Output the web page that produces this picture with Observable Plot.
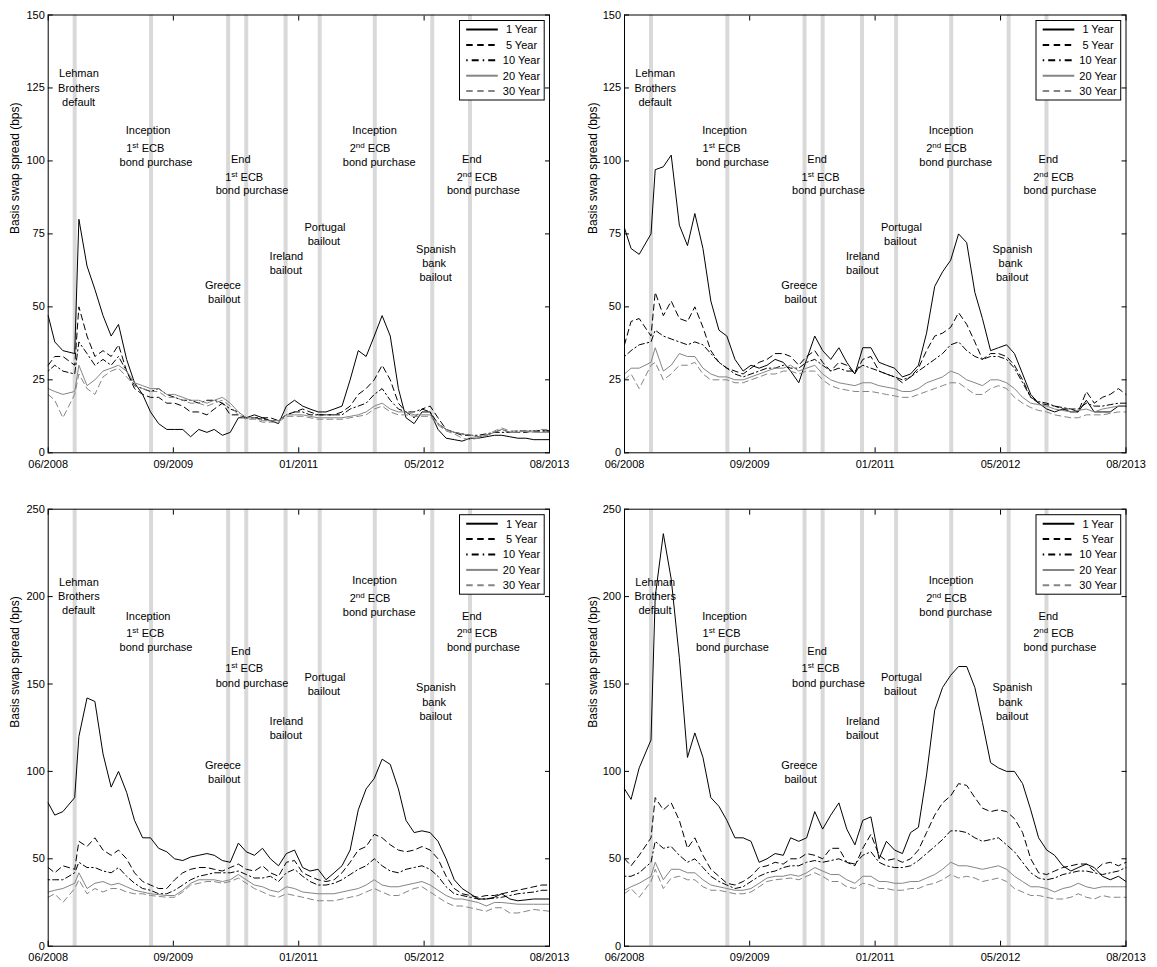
<!DOCTYPE html>
<html>
<head>
<meta charset="utf-8">
<script src="https://cdn.jsdelivr.net/npm/d3@7"></script>
<script src="https://cdn.jsdelivr.net/npm/@observablehq/plot@0.6"></script>
<style>
  html, body { margin: 0; padding: 0; background: #fff; }
  #wrap { position: relative; width: 1157px; height: 967px; background: #fff; overflow: hidden; }
</style>
</head>
<body>
<div id="wrap"></div>
<script>
// ---------- data ----------
const dates = [
  "2008-06-06","2008-07-01","2008-08-01","2008-09-15","2008-10-01","2008-11-01","2008-12-01",
  "2009-01-01","2009-02-01","2009-03-01","2009-04-01","2009-05-01","2009-06-01","2009-07-01","2009-08-01","2009-09-01","2009-10-01","2009-11-01","2009-12-01",
  "2010-01-01","2010-02-01","2010-03-01","2010-04-01","2010-05-01","2010-06-01","2010-07-01","2010-08-01","2010-09-01","2010-10-01","2010-11-01","2010-12-01",
  "2011-01-01","2011-02-01","2011-03-01","2011-04-01","2011-05-01","2011-06-01","2011-07-01","2011-08-01","2011-09-01","2011-10-01","2011-11-01","2011-12-01",
  "2012-01-01","2012-02-01","2012-03-01","2012-04-01","2012-05-01","2012-06-01","2012-07-01","2012-08-01","2012-09-01","2012-10-01","2012-11-01","2012-12-01",
  "2013-01-01","2013-02-01","2013-03-01","2013-04-01","2013-05-01","2013-06-01","2013-07-01","2013-08-01","2013-08-30"
];

const maturities = ["1 Year", "5 Year", "10 Year", "20 Year", "30 Year"];

// upper-left panel
const ul1y  = [47, 38,35,34,80,64,56, 47,40,44,32,24,20,14,10,8,8,8,5.5, 8,7,8,6,7,12,12,13,12,11,10,16, 18,16,15,14,14,15,16,25,35,33,40,47, 40,22,12,10,14,14,8,5,4.5,4,5,5, 5.5,6,6,5.5,5,5,4.5,4.5, 4.5];
const ul5y  = [30, 33,33,30,50,40,33, 35,33,37,28,22,20,19,19,17,17,16,14, 14,13,15,17,13,13,12,12,12,12,11,13, 14,15,14,13,13,13,14,16,20,22,25,30, 25,17,14,12,15,16,12,8,7,6,6,5.5, 6,7,8,7,7,7,7.5,7.5, 7.5];
const ul10y = [28, 30,28,27,38,34,30, 32,30,33,28,23,22,21,22,20,19,18,18, 17,18,18,17,15,14,12,12,11.5,11,11,13, 14,14,13,13,13,13,13,15,16,17,20,22, 18,15,14,14,15,14,10,8,7,6.5,6,6, 6.5,7,7,7,7.5,7.5,7.5,7.5, 7.5];
const ul20y = [22, 21,20,21,30,23,25, 28,29,30,28,24,23,22,22,20,20,19,18, 18,17,18,19,17,14,12,12,11,11,11,13, 13,13,12.5,12,12,12,12,12.5,13,14,16,17, 15,14,14,13,13,13,10,8,7,6.5,6,5.5, 6,7,8,7,7,7.5,7,7, 7];
const ul30y = [20, 18,12,20,27,22,20, 26,28,29,26,23,22,21,21,19,19,18,17, 17,16,17,18,16,13,11.5,11.5,10.5,10.5,10.5,12.5, 12.5,12.5,12,11.5,11.5,11.5,11.5,12,12.5,13,15,16, 14,13,13,12.5,12.5,12.5,9.5,7.5,6.5,5,4.5,5, 6,7.5,8.5,7.5,7.5,7.5,7.5,8, 8];

// upper-right panel
const ur1y  = [77, 70,68,75,97,98,102, 78,71,82,70,52,42,40,32,28,30,29,30, 32,31,28,24,32,40,35,32,36,31,27,36, 36,31,30,29,26,27,30,41,57,62,66,75, 72,55,46,35,36,37,34,27,20,17,15,14, 15,14,14,18,14,14,14,16, 16];
const ur5y  = [37, 45,46,40,55,47,52, 46,45,50,43,35,31,29,28,27,29,31,32, 34,34,33,30,33,35,31,28,31,30,27,32, 33,28,27,26,24,26,29,35,40,41,43,48, 44,38,32,34,34,33,30,25,19,17,16.5,16, 15,15,14,21,17,19,20,22, 20];
const ur10y = [33, 35,37,38,42,40,39, 38,37,38,37,34,31,29,27,26,27,28,29, 29,30,29,29,31,32,30,28,29,28,28,30, 29,28,27,26,25,26,28,30,32,34,37,38, 35,33,32,33,33,32,29,24,19,17.5,17,16, 15.5,15,15,17,16,16,16.5,17, 17];
const ur20y = [27, 29,29,31,36,28,30, 34,33,33,29,27,26,26,25,25,26,27,28, 29,29,30,28,29,30,27,25,24,23.5,23,24, 24,23,22.5,22,21,21,22,24,25,26,28,27, 25,24,23,25,25,24,22,19,17,16.5,16,15, 14.5,14,14.5,15,14,15,15.5,16, 16];
const ur30y = [25, 27,22,30,31,25,27, 30,30,31,27,25,25,25,24,24,25,26,27, 27,28,28,27,28,28,25,23,22,21.5,21,21, 21,20.5,20,19.5,19,19,20,21,22,23,24,24, 22,20,20,22,23,22,19,17,15.5,14.5,14,13, 12.5,12,12,13,13,13,13.5,14, 14];

// lower-left panel
const ll1y  = [82, 75,77,85,120,142,140, 110,91,100,88,72,62,62,56,54,50,49,51, 52,53,52,49,48,59,54,52,56,50,46,53, 55,45,43,44,38,42,46,55,78,90,96,107, 104,90,72,65,66,65,60,50,38,33,30,27, 27,28,30,27,26,26.5,27,27, 27];
const ll5y  = [45, 42,46,44,60,57,62, 55,52,55,50,42,37,35,33,33,38,42,44, 45,45,44,43,45,47,44,43,46,42,40,48, 49,42,40,38,37,38,42,48,55,57,64,62, 58,55,54,55,57,55,50,40,33,30,29,28, 29,29,30,31,32,33,34,35, 35];
const ll10y = [38, 38,38,42,48,45,45, 43,42,45,40,36,33,32,30,30,32,35,38, 40,41,42,42,42,43,41,39,39,40,37,42, 44,40,37,35,35,36,38,41,44,46,50,46, 43,42,44,45,46,44,40,34,30,29,28,27, 27,27.5,28,29,30,30.5,31,32, 32];
const ll20y = [31, 32,33,36,42,33,36, 37,35,36,34,32,31,30,29.5,29,29,32,36, 38,38,38,37,38,41,38,35,34,32,31,34, 33,31,30.5,30,30,30,31,32,33,35,38,35, 34,34,35,36,37,35,32,29,27,27,26,25, 23,25,25,24.5,24,24,24,24, 24];
const ll30y = [28, 30,25,33,38,30,33, 31,33,33,31,30,30,29,28.5,28,28,31,35, 36,37,37,36,37,39,36,33,31,29,28,30, 29,28,27,26,26,26,27,28,29,31,33,31, 29,29,31,33,34,31,28,25,23,23,22,21, 20,22,22,19,19,20,21,20.5, 20];

// lower-right panel
const lr1y  = [90, 84,102,118,200,236,210, 165,108,122,108,85,80,72,62,62,60,48,50, 53,52,62,60,62,77,67,75,82,67,58,72, 74,50,60,55,53,65,68,98,135,148,155,160, 160,148,128,105,102,100,100,93,78,62,55,52, 46,43,45,47,45,40,38,40, 37];
const lr5y  = [50, 46,52,62,85,78,82, 72,56,62,52,44,40,36,35,37,40,45,46, 48,47,50,50,53,52,50,56,56,48,46,56, 64,52,49,50,48,50,55,65,75,82,86,93, 92,85,79,77,78,77,73,65,50,42,41,43, 45,46,47,47,43,47,48,46, 48];
const lr10y = [40, 40,42,48,60,56,57, 52,48,50,45,40,37,35,33,34,37,40,42, 43,45,46,46,48,49,48,49,50,48,47,52, 54,48,46,45,45,46,49,53,57,61,66,66, 65,62,60,61,62,58,54,48,42,39,38,39, 41,42,43,43,42,41,42,43, 45];
const lr20y = [32, 34,36,40,48,38,44, 44,42,42,38,35,34,33,32,32,33,36,39, 40,40,41,40,42,45,43,41,41,38,36,40, 40,37,37,36,36,37,37,39,41,44,48,46, 46,45,44,45,46,44,40,37,34,34,33,31, 33,34,36,34,33,34,34,34, 34];
const lr30y = [30, 33,28,37,44,33,39, 40,38,38,34,32,32,31,30,30,31,34,37, 38,38.5,39,38,40,42,40,37,37,34,33,36, 35,33,33,32,32,33,33,35,36,38,41,39, 40,39,37,38,39,37,33,31,29,29,28,27, 27,28,30,28,27,29,28,28, 28];

// crisis and policy events (vertical bars)
const eventDates = ["2008-09-15","2009-07-03","2010-04-23","2010-07-01","2010-11-28","2011-04-07","2011-11-03","2012-06-09","2012-10-31"];

// event labels: one row per text line, anchored in data units
const upperNotes = [
  ["Lehman","2008-10-01",129.9], ["Brothers","2008-10-01",124.9], ["default","2008-09-30",120.1],
  ["Inception","2009-06-22",110.4], ["1^st ECB","2009-06-11",104.4], ["bond purchase","2009-07-22",99.6],
  ["End","2010-06-10",100.5], ["1^st ECB","2010-06-23",94.4], ["bond purchase","2010-07-23",89.8],
  ["Greece","2010-04-03",57.3], ["bailout","2010-04-08",52.5],
  ["Ireland","2010-12-01",67.3], ["bailout","2010-11-29",62.5],
  ["Portugal","2011-04-27",77.2], ["bailout","2011-04-23",72.4],
  ["Inception","2011-11-02",110.4], ["2^nd ECB","2011-10-16",104.4], ["bond purchase","2011-11-20",99.6],
  ["Spanish","2012-06-23",69.7], ["bank","2012-06-16",64.9], ["bailout","2012-06-22",60.2],
  ["End","2012-11-07",100.5], ["2^nd ECB","2012-11-27",94.4], ["bond purchase","2012-12-21",89.8]
];
const lowerNotes = [
  ["Lehman","2008-10-01",208.1], ["Brothers","2008-10-01",199.9], ["default","2008-09-30",191.9],
  ["Inception","2009-06-22",188.5], ["1^st ECB","2009-06-11",179], ["bond purchase","2009-07-22",171],
  ["End","2010-06-10",168.7], ["1^st ECB","2010-06-23",159], ["bond purchase","2010-07-23",150.4],
  ["Greece","2010-04-03",103.4], ["bailout","2010-04-08",95.4],
  ["Ireland","2010-12-01",128.7], ["bailout","2010-11-29",120.5],
  ["Portugal","2011-04-27",153.7], ["bailout","2011-04-23",145.8],
  ["Inception","2011-11-02",209], ["2^nd ECB","2011-10-16",199], ["bond purchase","2011-11-20",190.8],
  ["Spanish","2012-06-23",147.9], ["bank","2012-06-16",139.6], ["bailout","2012-06-22",131.6],
  ["End","2012-11-07",188.5], ["2^nd ECB","2012-11-27",179], ["bond purchase","2012-12-21",171]
];

const xDomain = ["2008-06-06", "2013-08-30"];
const xTickDates = ["2008-06-06", "2009-09-26", "2011-01-17", "2012-05-09", "2013-08-30"];
const xTickLabels = ["06/2008", "09/2009", "01/2011", "05/2012", "08/2013"];
const upperYTicks = [0, 25, 50, 75, 100, 125, 150];
const lowerYTicks = [0, 50, 100, 150, 200, 250];
const yLabel = "Basis swap spread (bps)";

// ---------- drawing ----------
const NS = "http://www.w3.org/2000/svg";
const FONT = '"Liberation Sans", Arial, Helvetica, sans-serif';
const GRAY = "#858585";
const lineStyles = [
  {stroke: "#000", dash: null,          legendDash: null},
  {stroke: "#000", dash: "6,4",         legendDash: "6.5,4.5"},
  {stroke: "#000", dash: "1.5,3,6,3",   legendDash: "1.5,4,7,4"},
  {stroke: GRAY,   dash: null,          legendDash: null},
  {stroke: GRAY,   dash: "6,4",         legendDash: "6.5,4.5"}
];

const toDate = s => new Date(s);
const xTicks = xTickDates.map(toDate);
const tickLabelOf = d => {
  const i = xTicks.findIndex(t => +t === +d);
  return i < 0 ? "" : xTickLabels[i];
};

// "1^st ECB" -> 1 with a raised "st", then " ECB"
function superscripts(svg) {
  svg.querySelectorAll("text").forEach(t => {
    const m = /^(\d+)\^(\w+)(.*)$/.exec(t.textContent);
    if (!m) return;
    while (t.firstChild) t.removeChild(t.firstChild);
    t.appendChild(document.createTextNode(m[1]));
    const sup = document.createElementNS(NS, "tspan");
    sup.setAttribute("dy", "-4");
    sup.setAttribute("font-size", "8");
    sup.textContent = m[2];
    const rest = document.createElementNS(NS, "tspan");
    rest.setAttribute("dy", "4");
    rest.textContent = m[3];
    t.appendChild(sup);
    t.appendChild(rest);
  });
}

function addLegend(svg, right, top) {
  const g = d3.select(svg).append("g")
    .attr("transform", `translate(${right - 89.5},${top + 6})`)
    .attr("font-family", FONT).attr("font-size", 11);
  g.append("rect").attr("x", 0).attr("y", 0).attr("width", 84.7).attr("height", 79.5)
    .attr("fill", "white").attr("stroke", "black").attr("stroke-width", 1);
  maturities.forEach((name, i) => {
    const y = 9 + i * 15.4;
    const s = lineStyles[i];
    g.append("line").attr("x1", 6.7).attr("x2", 38.3).attr("y1", y).attr("y2", y)
      .attr("stroke", s.stroke).attr("stroke-width", 2)
      .attr("stroke-dasharray", s.legendDash);
    g.append("text").attr("x", 62).attr("y", y).attr("dy", "0.35em")
      .attr("text-anchor", "middle").attr("fill", "black").text(name);
  });
}

function panel({series, yTicks, notes, left, top, width, height, margin}) {
  const yMax = yTicks[yTicks.length - 1];
  const noteRows = notes.map(([text, date, value]) => ({text, date: toDate(date), value}));
  const marks = [
    Plot.ruleX(eventDates.map(toDate), {stroke: "#d9d9d9", strokeWidth: 4}),
    Plot.text(noteRows, {x: "date", y: "value", text: "text", fill: "black", fontSize: 11})
  ];
  series.forEach((values, i) => {
    const rows = dates.map((d, j) => ({date: toDate(d), value: values[j]}));
    marks.push(Plot.line(rows, {
      x: "date", y: "value",
      stroke: lineStyles[i].stroke,
      strokeWidth: 1,
      strokeDasharray: lineStyles[i].dash
    }));
  });
  marks.push(
    Plot.frame({stroke: "black", strokeWidth: 1}),
    Plot.axisX({anchor: "bottom", ticks: xTicks, tickSize: -5, tickPadding: 12.1, tickFormat: tickLabelOf, label: null}),
    Plot.axisX({anchor: "top", ticks: xTicks, tickSize: -5, tickFormat: () => "", label: null}),
    Plot.axisY({anchor: "left", ticks: yTicks, tickSize: -5, tickPadding: 8.4, label: null}),
    Plot.axisY({anchor: "right", ticks: yTicks, tickSize: -5, tickFormat: () => "", label: null}),
    Plot.text([yLabel], {frameAnchor: "left", text: d => d, rotate: -90, dx: -(margin.left - 14.7), fontSize: 12, fill: "black"})
  );
  const svg = Plot.plot({
    width, height,
    marginLeft: margin.left, marginRight: margin.right,
    marginTop: margin.top, marginBottom: margin.bottom,
    x: {type: "utc", domain: xDomain.map(toDate)},
    y: {domain: [0, yMax]},
    style: {fontFamily: FONT, fontSize: "11px", background: "white", color: "black", overflow: "visible"},
    marks
  });
  superscripts(svg);
  addLegend(svg, width - margin.right, margin.top);
  svg.style.position = "absolute";
  svg.style.left = left + "px";
  svg.style.top = top + "px";
  document.getElementById("wrap").appendChild(svg);
}

const upperMargin = {top: 14.5, bottom: 27.7};
const lowerMargin = {top: 28.7, bottom: 21.3};

panel({series: [ul1y, ul5y, ul10y, ul20y, ul30y], yTicks: upperYTicks, notes: upperNotes,
  left: 0, top: 0, width: 578, height: 480, margin: {left: 47.7, right: 29, ...upperMargin}});
panel({series: [ur1y, ur5y, ur10y, ur20y, ur30y], yTicks: upperYTicks, notes: upperNotes,
  left: 578, top: 0, width: 579, height: 480, margin: {left: 46, right: 31.5, ...upperMargin}});
panel({series: [ll1y, ll5y, ll10y, ll20y, ll30y], yTicks: lowerYTicks, notes: lowerNotes,
  left: 0, top: 480, width: 578, height: 487, margin: {left: 47.7, right: 29, ...lowerMargin}});
panel({series: [lr1y, lr5y, lr10y, lr20y, lr30y], yTicks: lowerYTicks, notes: lowerNotes,
  left: 578, top: 480, width: 579, height: 487, margin: {left: 46, right: 31.5, ...lowerMargin}});
</script>
</body>
</html>
